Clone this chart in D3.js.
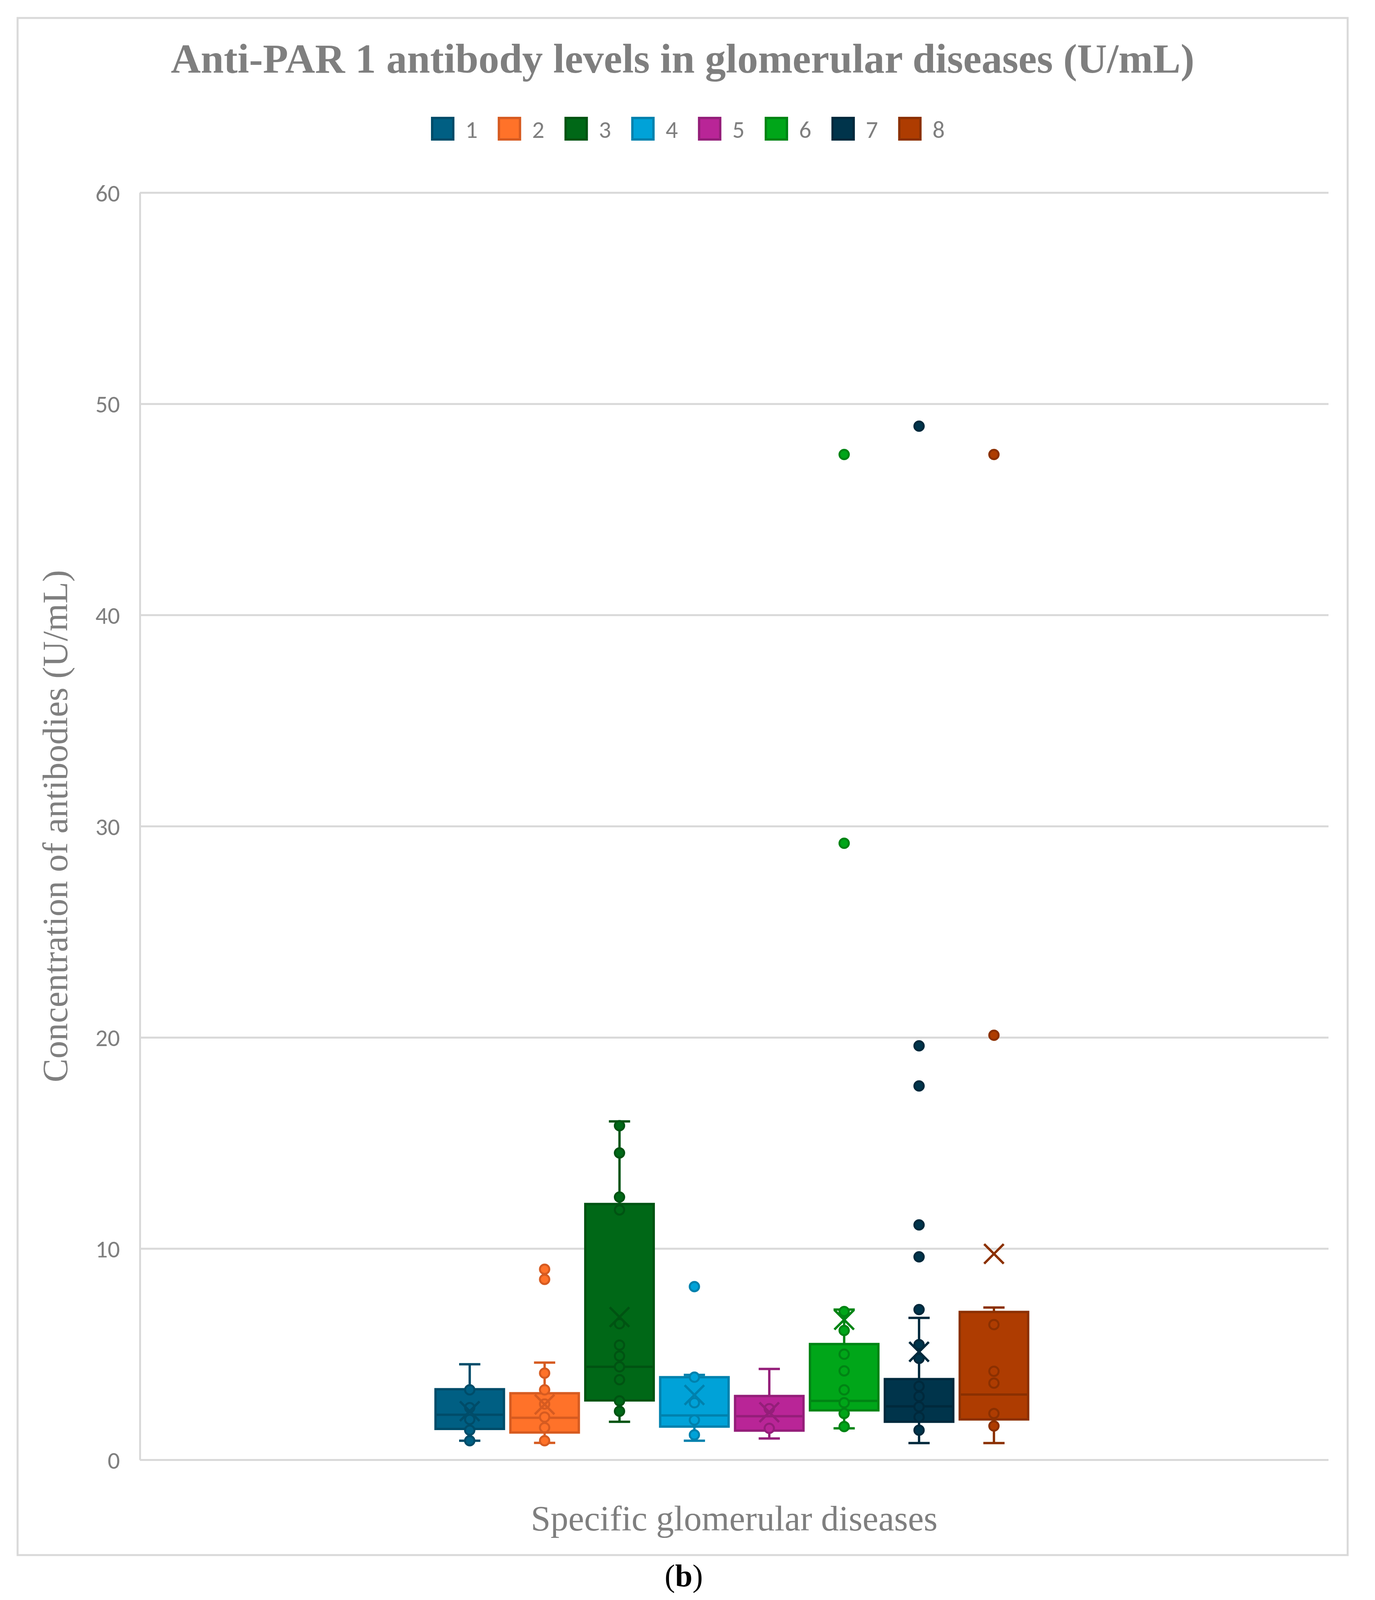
<!DOCTYPE html>
<html>
<head>
<meta charset="utf-8">
<script src="https://cdn.jsdelivr.net/npm/d3@7"></script>
<style>
  body { margin: 0; background: #fff; }
  svg { display: block; }
</style>
</head>
<body>
<div id="chart"></div>
<script>
// series (diseases 1..8) and their box statistics
const seriesNames = ["1", "2", "3", "4", "5", "6", "7", "8"];
const fillColors   = ["#005F83", "#FF7229", "#006817", "#00A2D8", "#B92597", "#00A619", "#00344B", "#AE3C01"];
const strokeColors = ["#004C69", "#D65B21", "#005312", "#0081AD", "#941E79", "#008414", "#00293C", "#8B3001"];

const whiskerLow  = [0.90, 0.80, 1.80, 0.90, 1.01, 1.49, 0.79, 0.79];
const quartile1   = [1.46, 1.29, 2.81, 1.57, 1.38, 2.34, 1.80, 1.91];
const medians     = [2.13, 1.99, 4.40, 2.10, 2.06, 2.79, 2.53, 3.09];
const quartile3   = [3.34, 3.15, 12.11, 3.91, 3.02, 5.48, 3.82, 7.00];
const whiskerHigh = [4.52, 4.60, 16.02, 4.02, 4.30, 7.11, 6.72, 7.21];
const means       = [2.30, 2.62, 6.76, 3.07, 2.25, 6.63, 5.11, 9.75];

const innerPoints = [
  [3.31, 2.47, 1.91, 1.40, 0.90],
  [4.10, 3.31, 2.64, 2.02, 1.52, 0.90],
  [15.82, 14.53, 12.44, 11.83, 6.44, 5.43, 4.91, 4.40, 3.79, 2.79, 2.30],
  [3.91, 2.70, 1.88, 1.18],
  [2.42, 1.49],
  [7.02, 6.12, 5.00, 4.21, 3.31, 2.70, 2.19, 1.57],
  [5.45, 4.80, 3.48, 3.00, 2.51, 2.02, 1.40],
  [6.40, 4.19, 3.63, 2.19, 1.60]
];
const outlierPoints = [
  [],
  [9.02, 8.54],
  [],
  [8.20],
  [],
  [29.19, 47.6],
  [7.11, 9.61, 11.12, 17.7, 19.6, 48.94],
  [20.1, 47.6]
];

const categories = [""];
const yTicks = [0, 10, 20, 30, 40, 50, 60];

const W = 3519, H = 4124;
const plot = { left: 358, right: 3400, top: 493, bottom: 3737 };
const gray = "#7f7f7f", gridColor = "#d9d9d9";
const sansFont = "Carlito, Calibri, 'Liberation Sans', Arial, sans-serif";
const serifFont = "'Liberation Serif', 'Times New Roman', serif";

const svg = d3.select("#chart").append("svg")
    .attr("width", W)
    .attr("height", H);

svg.append("rect")
    .attr("width", W).attr("height", H)
    .attr("fill", "#fff");

// chart border
svg.append("rect")
    .attr("x", 45).attr("y", 46)
    .attr("width", 3449 - 45).attr("height", 3981 - 46)
    .attr("fill", "none")
    .attr("stroke", gridColor)
    .attr("stroke-width", 5);

const y = d3.scaleLinear().domain([0, 60]).range([plot.bottom, plot.top]);

const xCat = d3.scaleBand()
    .domain(categories)
    .range([plot.left, plot.right])
    .paddingOuter(0.492)
    .align(0.496);

const xSeries = d3.scaleBand()
    .domain(seriesNames)
    .range([0, xCat.bandwidth()])
    .paddingInner(0.055)
    .paddingOuter(0.0275);

// y axis with gridlines
const yAxis = svg.append("g")
    .attr("transform", "translate(" + plot.left + ",0)")
    .call(d3.axisLeft(y)
        .tickValues(yTicks)
        .tickSize(-(plot.right - plot.left))
        .tickSizeOuter(0)
        .tickPadding(51));

yAxis.selectAll(".tick line")
    .attr("stroke", gridColor)
    .attr("stroke-width", 5);
yAxis.select(".domain")
    .attr("stroke", gridColor)
    .attr("stroke-width", 5);
yAxis.selectAll(".tick text")
    .attr("fill", gray)
    .attr("dy", "0.36em")
    .style("font-family", sansFont)
    .style("font-size", "62px");

// boxes
const boxW = xSeries.bandwidth();
const capW = boxW * 0.3;

seriesNames.forEach(function(name, i) {
  const cx = xCat("") + xSeries(name) + boxW / 2;
  const g = svg.append("g").attr("class", "series-" + name);
  const col = fillColors[i], dark = strokeColors[i];

  // whiskers
  g.append("line")
      .attr("x1", cx).attr("x2", cx)
      .attr("y1", y(quartile3[i])).attr("y2", y(whiskerHigh[i]))
      .attr("stroke", dark).attr("stroke-width", 6);
  g.append("line")
      .attr("x1", cx).attr("x2", cx)
      .attr("y1", y(quartile1[i])).attr("y2", y(whiskerLow[i]))
      .attr("stroke", dark).attr("stroke-width", 6);
  [whiskerHigh[i], whiskerLow[i]].forEach(function(v) {
    g.append("line")
        .attr("x1", cx - capW / 2).attr("x2", cx + capW / 2)
        .attr("y1", y(v)).attr("y2", y(v))
        .attr("stroke", dark).attr("stroke-width", 6);
  });

  // box
  g.append("rect")
      .attr("x", cx - boxW / 2 + 3)
      .attr("y", y(quartile3[i]))
      .attr("width", boxW - 6)
      .attr("height", y(quartile1[i]) - y(quartile3[i]))
      .attr("fill", col)
      .attr("stroke", dark)
      .attr("stroke-width", 6);

  // median
  g.append("line")
      .attr("x1", cx - boxW / 2 + 3).attr("x2", cx + boxW / 2 - 3)
      .attr("y1", y(medians[i])).attr("y2", y(medians[i]))
      .attr("stroke", dark).attr("stroke-width", 6);

  // inner points and outliers
  g.selectAll("circle.pt")
      .data(innerPoints[i].concat(outlierPoints[i]))
      .enter()
      .append("circle")
      .attr("class", "pt")
      .attr("cx", cx)
      .attr("cy", function(d) { return y(d); })
      .attr("r", 12)
      .attr("fill", col)
      .attr("stroke", dark)
      .attr("stroke-width", 5);

  // mean marker
  const m = y(means[i]), s = 25;
  g.append("path")
      .attr("d", "M" + (cx - s) + "," + (m - s) + "L" + (cx + s) + "," + (m + s) +
                 "M" + (cx + s) + "," + (m - s) + "L" + (cx - s) + "," + (m + s))
      .attr("stroke", dark)
      .attr("stroke-width", 6)
      .attr("fill", "none");
});

// title
svg.append("text")
    .attr("x", 1747).attr("y", 186)
    .attr("text-anchor", "middle")
    .attr("fill", gray)
    .style("font-family", serifFont)
    .style("font-weight", "bold")
    .style("font-size", "106px")
    .text("Anti-PAR 1 antibody levels in glomerular diseases (U/mL)");

// legend
const legend = svg.append("g").attr("transform", "translate(1103,299)");
const item = legend.selectAll("g")
    .data(seriesNames)
    .enter()
    .append("g")
    .attr("transform", function(d, i) { return "translate(" + (i * 170.8) + ",0)"; });
item.append("rect")
    .attr("x", 3).attr("y", 3)
    .attr("width", 54).attr("height", 55)
    .attr("fill", function(d, i) { return fillColors[i]; })
    .attr("stroke", function(d, i) { return strokeColors[i]; })
    .attr("stroke-width", 6);
item.append("text")
    .attr("x", 88).attr("y", 54)
    .attr("fill", gray)
    .style("font-family", sansFont)
    .style("font-size", "62px")
    .text(function(d) { return d; });

// axis titles
svg.append("text")
    .attr("transform", "translate(172," + ((plot.top + plot.bottom) / 2) + ") rotate(-90)")
    .attr("text-anchor", "middle")
    .attr("fill", gray)
    .style("font-family", serifFont)
    .style("font-size", "91px")
    .text("Concentration of antibodies (U/mL)");

svg.append("text")
    .attr("x", (plot.left + plot.right) / 2).attr("y", 3918)
    .attr("text-anchor", "middle")
    .attr("fill", gray)
    .style("font-family", serifFont)
    .style("font-size", "91px")
    .text("Specific glomerular diseases");

// panel caption
const cap = svg.append("text")
    .attr("x", 1750).attr("y", 4061)
    .attr("text-anchor", "middle")
    .attr("fill", "#000")
    .style("font-family", serifFont)
    .style("font-size", "80px");
cap.append("tspan").text("(");
cap.append("tspan").style("font-weight", "bold").text("b");
cap.append("tspan").text(")");
</script>
</body>
</html>
